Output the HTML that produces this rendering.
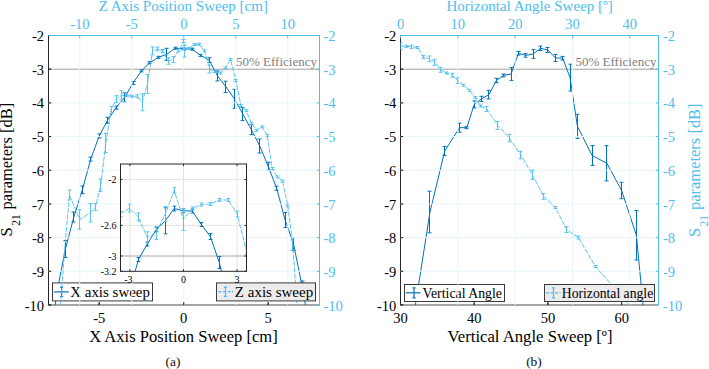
<!DOCTYPE html><html><head><meta charset="utf-8"><style>html,body{margin:0;padding:0;background:#fff;width:709px;height:369px;overflow:hidden}svg{display:block}text{font-family:"Liberation Serif", serif}</style></head><body>
<svg width="709" height="369" viewBox="0 0 709 369">
<defs>
<clipPath id="cL"><rect x="48.5" y="35.5" width="271.0" height="269.5"/></clipPath>
<clipPath id="cR"><rect x="400.5" y="35.5" width="258.0" height="269.5"/></clipPath>
<clipPath id="cI"><rect x="120.5" y="164.0" width="126.0" height="107.30000000000001"/></clipPath>
</defs>
<rect width="709" height="369" fill="#fff"/>
<path d="M48.5 69.19H319.5" stroke="#a0a0a0" stroke-width="1" fill="none"/>
<g clip-path="url(#cL)">
<path d="M48.5 355 L56.95 292 L65.4 249 L73.85 217 L82.3 189.8 L90.75 159.1 L99.2 135.9 L107.65 120.3 L116.1 107.6 L124.55 97.5 L133 83 L141.45 70.9 L149.9 62.7 L158.35 57.3 L166.8 54.3 L175.25 48.2 L183.7 48.9 L192.15 49.2 L200.6 55.4 L209.05 60 L217.5 75.9 L225.95 86.8 L234.4 98.8 L242.85 114.1 L251.3 129.6 L259.75 146 L268.2 166.3 L276.65 188.2 L285.1 220 L293.55 244 L302 286 L310.45 333" fill="none" stroke="#0072BD" stroke-width="1.0" stroke-linejoin="round"/>
<path d="M56.5 288V296 M54.5 288H58.5 M54.5 296H58.5 M65.5 240.5V257.5 M63.5 240.5H67.5 M63.5 257.5H67.5 M73.5 212V222 M71.5 212H75.5 M71.5 222H75.5 M82.5 186V193.6 M80.5 186H84.5 M80.5 193.6H84.5 M90.5 157.1V161.1 M88.5 157.1H92.5 M88.5 161.1H92.5 M99.5 133.9V137.9 M97.5 133.9H101.5 M97.5 137.9H101.5 M107.5 117.3V123.3 M105.5 117.3H109.5 M105.5 123.3H109.5 M116.5 106.1V109.1 M114.5 106.1H118.5 M114.5 109.1H118.5 M124.5 92.9V102.1 M122.5 92.9H126.5 M122.5 102.1H126.5 M133.5 81.5V84.5 M131.5 81.5H135.5 M131.5 84.5H135.5 M141.5 69.9V71.9 M139.5 69.9H143.5 M139.5 71.9H143.5 M149.5 61.7V63.7 M147.5 61.7H151.5 M147.5 63.7H151.5 M158.5 56.3V58.3 M156.5 56.3H160.5 M156.5 58.3H160.5 M166.5 48.3V60.3 M164.5 48.3H168.5 M164.5 60.3H168.5 M175.5 47.2V49.2 M173.5 47.2H177.5 M173.5 49.2H177.5 M183.5 47.9V49.9 M181.5 47.9H185.5 M181.5 49.9H185.5 M192.5 48.2V50.2 M190.5 48.2H194.5 M190.5 50.2H194.5 M200.5 54.4V56.4 M198.5 54.4H202.5 M198.5 56.4H202.5 M209.5 57.7V62.3 M207.5 57.7H211.5 M207.5 62.3H211.5 M217.5 70.9V80.9 M215.5 70.9H219.5 M215.5 80.9H219.5 M225.5 81.2V92.4 M223.5 81.2H227.5 M223.5 92.4H227.5 M234.5 89.3V108.3 M232.5 89.3H236.5 M232.5 108.3H236.5 M242.5 107.6V120.6 M240.5 107.6H244.5 M240.5 120.6H244.5 M251.5 124.6V134.6 M249.5 124.6H253.5 M249.5 134.6H253.5 M259.5 139V153 M257.5 139H261.5 M257.5 153H261.5 M268.5 162.3V170.3 M266.5 162.3H270.5 M266.5 170.3H270.5 M276.5 186.2V190.2 M274.5 186.2H278.5 M274.5 190.2H278.5 M285.5 212.5V227.5 M283.5 212.5H287.5 M283.5 227.5H287.5 M293.5 237.5V250.5 M291.5 237.5H295.5 M291.5 250.5H295.5 M302.5 281V291 M300.5 281H304.5 M300.5 291H304.5" fill="none" stroke="#0072BD" stroke-width="1.0"/>
</g>
<path d="M48.5 35.5V305" stroke="#262626" stroke-width="1" fill="none"/>
<path d="M48.5 305H319.5" stroke="#4d4d4d" stroke-width="1.2" fill="none"/>
<path d="M48.5 305h2.7 M48.5 271.31h2.7 M48.5 237.62h2.7 M48.5 203.94h2.7 M48.5 170.25h2.7 M48.5 136.56h2.7 M48.5 102.88h2.7 M48.5 69.19h2.7 M48.5 35.5h2.7 M99.2 305v-2.7 M183.7 305v-2.7 M268.2 305v-2.7" stroke="#262626" stroke-width="1" fill="none"/>
<rect x="52.5" y="282.9" width="100" height="18" fill="#fff" stroke="#3a3a3a" stroke-width="1"/>
<path d="M54 291.9H68.8" stroke="#0072BD" stroke-width="1.2" fill="none"/>
<path d="M61.6 287.2V296.5 M60.1 287.2h3 M60.1 296.5h3" stroke="#0072BD" stroke-width="1.2" fill="none"/>
<text x="70.2" y="297.3" font-size="15" fill="#000" textLength="79.8" lengthAdjust="spacingAndGlyphs">X axis sweep</text>
<path d="M79.8 35.5V305 M131.8 35.5V305 M183.8 35.5V305 M235.8 35.5V305 M287.8 35.5V305 M48.5 271.31H319.5 M48.5 237.62H319.5 M48.5 203.94H319.5 M48.5 170.25H319.5 M48.5 136.56H319.5 M48.5 102.88H319.5" stroke="#e6f5fc" stroke-width="1" fill="none"/>
<path d="M48.5 305h2.7 M48.5 271.31h2.7 M48.5 237.62h2.7 M48.5 203.94h2.7 M48.5 170.25h2.7 M48.5 136.56h2.7 M48.5 102.88h2.7 M48.5 69.19h2.7 M48.5 35.5h2.7 M99.2 305v-2.7 M183.7 305v-2.7 M268.2 305v-2.7" stroke="#262626" stroke-width="1" fill="none"/>
<text x="236" y="66" font-size="13" fill="#7f7f7f" textLength="81" lengthAdjust="spacingAndGlyphs">50% Efficiency</text>
<g clip-path="url(#cL)">
<path d="M60 312 L64.4 252 L69.5 195 L79.7 219.5 L90.3 212.8 L95.5 207.1 L100.7 185.3 L105.85 143 L111 110 L116.1 99.2 L121.4 95.3 L126.6 95.6 L131.8 96.3 L137 96.3 L142.2 102.3 L147.4 84 L152.6 51 L157.6 49 L162.6 51 L168 61 L173 59.5 L178.3 51 L183.8 41 L184.2 51 L188.9 48.5 L194.2 44.5 L199 44.3 L204.4 50.7 L209.7 69 L214.6 71.5 L220.2 73.1 L225.4 68 L230.5 59.5 L235.9 80.5 L240.9 105.5 L246.1 110.6 L251.5 123.3 L256.6 130.3 L262 126.8 L267.2 135.3 L272.2 168.5 L277.3 176.9 L282.6 181.1 L287.8 205.9 L292.8 245 L298 320" fill="none" stroke="#4DBEEE" stroke-width="0.9" stroke-dasharray="5 1.2" stroke-linejoin="round"/>
<path d="M69.5 190V200 M67.5 190H71.5 M67.5 200H71.5 M79.5 209.8V229.2 M77.5 209.8H81.5 M77.5 229.2H81.5 M90.5 203.6V222 M88.5 203.6H92.5 M88.5 222H92.5 M95.5 203.6V210.6 M93.5 203.6H97.5 M93.5 210.6H97.5 M100.5 179V191.6 M98.5 179H102.5 M98.5 191.6H102.5 M105.5 133.5V152.5 M103.5 133.5H107.5 M103.5 152.5H107.5 M111.5 106.5V113.5 M109.5 106.5H113.5 M109.5 113.5H113.5 M116.5 95.7V102.7 M114.5 95.7H118.5 M114.5 102.7H118.5 M121.5 90.8V99.8 M119.5 90.8H123.5 M119.5 99.8H123.5 M126.5 94.6V96.6 M124.5 94.6H128.5 M124.5 96.6H128.5 M131.5 95.3V97.3 M129.5 95.3H133.5 M129.5 97.3H133.5 M137.5 94.8V97.8 M135.5 94.8H139.5 M135.5 97.8H139.5 M142.5 93.8V110.8 M140.5 93.8H144.5 M140.5 110.8H144.5 M147.5 74.5V93.5 M145.5 74.5H149.5 M145.5 93.5H149.5 M152.5 47V55 M150.5 47H154.5 M150.5 55H154.5 M157.5 47V51 M155.5 47H159.5 M155.5 51H159.5 M162.5 49.5V52.5 M160.5 49.5H164.5 M160.5 52.5H164.5 M168.5 57.8V64.2 M166.5 57.8H170.5 M166.5 64.2H170.5 M173.5 56.5V62.5 M171.5 56.5H175.5 M171.5 62.5H175.5 M178.5 50V52 M176.5 50H180.5 M176.5 52H180.5 M183.5 39.5V42.5 M181.5 39.5H185.5 M181.5 42.5H185.5 M184.5 45V57 M182.5 45H186.5 M182.5 57H186.5 M188.5 47.5V49.5 M186.5 47.5H190.5 M186.5 49.5H190.5 M194.5 43.5V45.5 M192.5 43.5H196.5 M192.5 45.5H196.5 M199.5 43.3V45.3 M197.5 43.3H201.5 M197.5 45.3H201.5 M204.5 49.7V51.7 M202.5 49.7H206.5 M202.5 51.7H206.5 M209.5 65V73 M207.5 65H211.5 M207.5 73H211.5 M214.5 70.5V72.5 M212.5 70.5H216.5 M212.5 72.5H216.5 M220.5 72.1V74.1 M218.5 72.1H222.5 M218.5 74.1H222.5 M225.5 67V69 M223.5 67H227.5 M223.5 69H227.5 M230.5 58.5V60.5 M228.5 58.5H232.5 M228.5 60.5H232.5 M235.5 79.5V81.5 M233.5 79.5H237.5 M233.5 81.5H237.5 M240.5 104.5V106.5 M238.5 104.5H242.5 M238.5 106.5H242.5 M246.5 109.6V111.6 M244.5 109.6H248.5 M244.5 111.6H248.5 M251.5 122.3V124.3 M249.5 122.3H253.5 M249.5 124.3H253.5 M256.5 129.3V131.3 M254.5 129.3H258.5 M254.5 131.3H258.5 M262.5 125.8V127.8 M260.5 125.8H264.5 M260.5 127.8H264.5 M267.5 134.3V136.3 M265.5 134.3H269.5 M265.5 136.3H269.5 M272.5 167.5V169.5 M270.5 167.5H274.5 M270.5 169.5H274.5 M277.5 175.9V177.9 M275.5 175.9H279.5 M275.5 177.9H279.5 M282.5 180.1V182.1 M280.5 180.1H284.5 M280.5 182.1H284.5 M287.5 204.9V206.9 M285.5 204.9H289.5 M285.5 206.9H289.5 M292.5 240V250 M290.5 240H294.5 M290.5 250H294.5" fill="none" stroke="#4DBEEE" stroke-width="0.9"/>
</g>
<path d="M48.5 35.5H319.5" stroke="#4DBEEE" stroke-width="1" fill="none"/>
<path d="M319.5 35.5V305" stroke="#4DBEEE" stroke-width="1" fill="none"/>
<path d="M319.5 305h-2.7 M319.5 271.31h-2.7 M319.5 237.62h-2.7 M319.5 203.94h-2.7 M319.5 170.25h-2.7 M319.5 136.56h-2.7 M319.5 102.88h-2.7 M319.5 69.19h-2.7 M319.5 35.5h-2.7 M79.8 35.5v2.7 M131.8 35.5v2.7 M183.8 35.5v2.7 M235.8 35.5v2.7 M287.8 35.5v2.7" stroke="#4DBEEE" stroke-width="1" fill="none"/>
<rect x="216.5" y="282.9" width="99" height="18" fill="#ececec" stroke="#3a3a3a" stroke-width="1"/>
<path d="M218.5 291.7H233.3" stroke="#4DBEEE" stroke-width="1.2" fill="none" stroke-dasharray="3 1.5"/>
<path d="M225.5 287.2V296.3 M224 287.2h3 M224 296.3h3" stroke="#4DBEEE" stroke-width="1.2" fill="none"/>
<text x="234.8" y="297.1" font-size="15" fill="#000" textLength="78.4" lengthAdjust="spacingAndGlyphs">Z axis sweep</text>
<text x="44" y="310.6" font-size="14.5" fill="#000" text-anchor="end">-10</text>
<text x="323.5" y="310.6" font-size="14.5" fill="#4DBEEE">-10</text>
<text x="44" y="276.91" font-size="14.5" fill="#000" text-anchor="end">-9</text>
<text x="323.5" y="276.91" font-size="14.5" fill="#4DBEEE">-9</text>
<text x="44" y="243.22" font-size="14.5" fill="#000" text-anchor="end">-8</text>
<text x="323.5" y="243.22" font-size="14.5" fill="#4DBEEE">-8</text>
<text x="44" y="209.54" font-size="14.5" fill="#000" text-anchor="end">-7</text>
<text x="323.5" y="209.54" font-size="14.5" fill="#4DBEEE">-7</text>
<text x="44" y="175.85" font-size="14.5" fill="#000" text-anchor="end">-6</text>
<text x="323.5" y="175.85" font-size="14.5" fill="#4DBEEE">-6</text>
<text x="44" y="142.16" font-size="14.5" fill="#000" text-anchor="end">-5</text>
<text x="323.5" y="142.16" font-size="14.5" fill="#4DBEEE">-5</text>
<text x="44" y="108.47" font-size="14.5" fill="#000" text-anchor="end">-4</text>
<text x="323.5" y="108.47" font-size="14.5" fill="#4DBEEE">-4</text>
<text x="44" y="74.79" font-size="14.5" fill="#000" text-anchor="end">-3</text>
<text x="323.5" y="74.79" font-size="14.5" fill="#4DBEEE">-3</text>
<text x="44" y="41.1" font-size="14.5" fill="#000" text-anchor="end">-2</text>
<text x="323.5" y="41.1" font-size="14.5" fill="#4DBEEE">-2</text>
<text x="99.2" y="322.5" font-size="14.5" fill="#000" text-anchor="middle">-5</text>
<text x="183.7" y="322.5" font-size="14.5" fill="#000" text-anchor="middle">0</text>
<text x="268.2" y="322.5" font-size="14.5" fill="#000" text-anchor="middle">5</text>
<text x="79.8" y="28.8" font-size="14.5" fill="#4DBEEE" text-anchor="middle">-10</text>
<text x="131.8" y="28.8" font-size="14.5" fill="#4DBEEE" text-anchor="middle">-5</text>
<text x="183.8" y="28.8" font-size="14.5" fill="#4DBEEE" text-anchor="middle">0</text>
<text x="235.8" y="28.8" font-size="14.5" fill="#4DBEEE" text-anchor="middle">5</text>
<text x="287.8" y="28.8" font-size="14.5" fill="#4DBEEE" text-anchor="middle">10</text>
<text x="98.7" y="11.1" font-size="15" fill="#4DBEEE" textLength="169.2" lengthAdjust="spacingAndGlyphs">Z Axis Position Sweep [cm]</text>
<text x="89.2" y="341.9" font-size="16.5" fill="#000" textLength="188.5" lengthAdjust="spacingAndGlyphs">X Axis Position Sweep [cm]</text>
<text x="173" y="365.8" font-size="13.5" fill="#111" text-anchor="middle">(a)</text>
<g fill="#000" transform="translate(12.4 236.4) rotate(-90)">
<text x="0" y="0" font-size="16.5">S</text>
<text x="10.6" y="7.9" font-size="11.5">21</text>
<text x="27" y="0" font-size="16.5" textLength="106.6" lengthAdjust="spacingAndGlyphs">parameters [dB]</text>
</g>
<rect x="120.5" y="164.0" width="126.0" height="107.30000000000001" fill="#fff"/>
<path d="M129.95 164V271.3 M183.5 164V271.3 M237.05 164V271.3 M120.5 179.5H246.5 M120.5 225.4H246.5" stroke="#e3e3e3" stroke-width="1" fill="none"/>
<path d="M120.5 256H246.5" stroke="#a8a8a8" stroke-width="1" fill="none"/>
<g clip-path="url(#cI)">
<path d="M129.95 290 L138.4 259.5 L147.3 244 L156.2 229.7 L165.3 220.8 L174.2 208.5 L183.4 210.8 L192.3 211 L201.3 224.5 L210.3 236.5 L219.3 262.5 L228.2 300" fill="none" stroke="#0072BD" stroke-width="1.0" stroke-linejoin="round"/>
<path d="M138.5 257.5V261.5 M136.7 257.5H140.3 M136.7 261.5H140.3 M147.5 242V246 M145.7 242H149.3 M145.7 246H149.3 M156.5 227.7V231.7 M154.7 227.7H158.3 M154.7 231.7H158.3 M165.5 207.8V233.8 M163.7 207.8H167.3 M163.7 233.8H167.3 M174.5 206.1V210.9 M172.7 206.1H176.3 M172.7 210.9H176.3 M183.5 208.8V212.8 M181.7 208.8H185.3 M181.7 212.8H185.3 M192.5 209V213 M190.7 209H194.3 M190.7 213H194.3 M201.5 222.5V226.5 M199.7 222.5H203.3 M199.7 226.5H203.3 M210.5 233.5V239.5 M208.7 233.5H212.3 M208.7 239.5H212.3 M219.5 256.5V268.5 M217.7 256.5H221.3 M217.7 268.5H221.3" fill="none" stroke="#0072BD" stroke-width="1.0"/>
</g>
<g clip-path="url(#cI)">
<path d="M120.3 214 L129.5 208.1 L138.4 217 L147.2 237.5 L156.1 233 L165.3 214 L174.2 190.4 L183.3 219.5 L192.2 208.5 L201.3 204.5 L210.3 204 L219.3 200 L228.2 200 L237.1 214 L246.3 250" fill="none" stroke="#4DBEEE" stroke-width="0.9" stroke-dasharray="5 1.2" stroke-linejoin="round"/>
<path d="M120.5 211.5V216.5 M118.7 211.5H122.3 M118.7 216.5H122.3 M129.5 204.1V212.1 M127.7 204.1H131.3 M127.7 212.1H131.3 M138.5 213V221 M136.7 213H140.3 M136.7 221H140.3 M147.5 231.8V243.2 M145.7 231.8H149.3 M145.7 243.2H149.3 M156.5 226.4V239.6 M154.7 226.4H158.3 M154.7 239.6H158.3 M165.5 206.5V221.5 M163.7 206.5H167.3 M163.7 221.5H167.3 M174.5 187.6V193.2 M172.7 187.6H176.3 M172.7 193.2H176.3 M183.5 208.5V230.5 M181.7 208.5H185.3 M181.7 230.5H185.3 M192.5 207V210 M190.7 207H194.3 M190.7 210H194.3 M201.5 203V206 M199.7 203H203.3 M199.7 206H203.3 M210.5 202.5V205.5 M208.7 202.5H212.3 M208.7 205.5H212.3 M219.5 198.5V201.5 M217.7 198.5H221.3 M217.7 201.5H221.3 M228.5 198.5V201.5 M226.7 198.5H230.3 M226.7 201.5H230.3 M237.5 211V217 M235.7 211H239.3 M235.7 217H239.3 M246.5 246V254 M244.7 246H248.3 M244.7 254H248.3" fill="none" stroke="#4DBEEE" stroke-width="0.9"/>
</g>
<rect x="120.5" y="164.0" width="126.0" height="107.30000000000001" fill="none" stroke="#262626" stroke-width="1"/>
<path d="M129.95 271.3v-2 M183.5 271.3v-2 M237.05 271.3v-2 M129.95 164v2 M183.5 164v2 M237.05 164v2 M120.5 179.5h2 M120.5 225.4h2 M120.5 256h2 M120.5 271.3h2 M246.5 179.5h-2 M246.5 225.4h-2 M246.5 256h-2 M246.5 271.3h-2" stroke="#262626" stroke-width="1" fill="none"/>
<text x="116.5" y="183.3" font-size="10" fill="#000" text-anchor="end">-2</text>
<text x="116.5" y="229.2" font-size="10" fill="#000" text-anchor="end">-2.6</text>
<text x="116.5" y="259.8" font-size="10" fill="#000" text-anchor="end">-3</text>
<text x="116.5" y="275.1" font-size="10" fill="#000" text-anchor="end">-3.2</text>
<text x="128.35" y="282.8" font-size="10" fill="#000" text-anchor="middle">-3</text>
<text x="183.5" y="282.8" font-size="10" fill="#000" text-anchor="middle">0</text>
<text x="237.05" y="282.8" font-size="10" fill="#000" text-anchor="middle">3</text>
<path d="M400.5 69.19H658.5" stroke="#a0a0a0" stroke-width="1" fill="none"/>
<g clip-path="url(#cR)">
<path d="M415.24 306 L429.99 212 L444.73 151 L459.47 127.7 L466.84 127.7 L474.21 104.4 L481.59 98.8 L488.96 94.6 L496.33 80.5 L503.7 75.4 L511.07 74 L518.44 53.3 L525.81 55.4 L533.19 54 L540.56 48.3 L547.93 50 L555.3 57.9 L562.67 58.2 L570.04 77.6 L577.41 126.3 L592.16 155.5 L606.9 163.3 L621.64 190.5 L636.39 235.3 L643.76 312" fill="none" stroke="#0072BD" stroke-width="1.0" stroke-linejoin="round"/>
<path d="M429.5 191.2V232.8 M427.5 191.2H431.5 M427.5 232.8H431.5 M444.5 146.4V155.6 M442.5 146.4H446.5 M442.5 155.6H446.5 M459.5 123.1V132.3 M457.5 123.1H461.5 M457.5 132.3H461.5 M466.5 126.7V128.7 M464.5 126.7H468.5 M464.5 128.7H468.5 M474.5 100.9V107.9 M472.5 100.9H476.5 M472.5 107.9H476.5 M481.5 96.3V101.3 M479.5 96.3H483.5 M479.5 101.3H483.5 M488.5 90.3V98.9 M486.5 90.3H490.5 M486.5 98.9H490.5 M496.5 78.3V82.7 M494.5 78.3H498.5 M494.5 82.7H498.5 M503.5 74V76.8 M501.5 74H505.5 M501.5 76.8H505.5 M511.5 67.6V80.4 M509.5 67.6H513.5 M509.5 80.4H513.5 M518.5 51.5V55.1 M516.5 51.5H520.5 M516.5 55.1H520.5 M525.5 53.6V57.2 M523.5 53.6H527.5 M523.5 57.2H527.5 M533.5 49.7V58.3 M531.5 49.7H535.5 M531.5 58.3H535.5 M540.5 46.1V50.5 M538.5 46.1H542.5 M538.5 50.5H542.5 M547.5 47.5V52.5 M545.5 47.5H549.5 M545.5 52.5H549.5 M555.5 54.4V61.4 M553.5 54.4H557.5 M553.5 61.4H557.5 M562.5 56.4V60 M560.5 56.4H564.5 M560.5 60H564.5 M570.5 64.2V91 M568.5 64.2H572.5 M568.5 91H572.5 M577.5 114.3V138.3 M575.5 114.3H579.5 M575.5 138.3H579.5 M592.5 145.6V165.4 M590.5 145.6H594.5 M590.5 165.4H594.5 M606.5 145.7V180.9 M604.5 145.7H608.5 M604.5 180.9H608.5 M621.5 182.3V198.7 M619.5 182.3H623.5 M619.5 198.7H623.5 M636.5 210.6V260 M634.5 210.6H638.5 M634.5 260H638.5" fill="none" stroke="#0072BD" stroke-width="1.0"/>
</g>
<path d="M400.5 35.5V305" stroke="#262626" stroke-width="1" fill="none"/>
<path d="M400.5 305H658.5" stroke="#4d4d4d" stroke-width="1.2" fill="none"/>
<path d="M400.5 305h2.7 M400.5 271.31h2.7 M400.5 237.62h2.7 M400.5 203.94h2.7 M400.5 170.25h2.7 M400.5 136.56h2.7 M400.5 102.88h2.7 M400.5 69.19h2.7 M400.5 35.5h2.7 M400.5 305v-2.7 M474.21 305v-2.7 M547.93 305v-2.7 M621.64 305v-2.7" stroke="#262626" stroke-width="1" fill="none"/>
<rect x="404.5" y="284.5" width="100" height="17" fill="#fff" stroke="#3a3a3a" stroke-width="1"/>
<path d="M405.7 292.8H420.5" stroke="#0072BD" stroke-width="1.2" fill="none"/>
<path d="M414 287.9V297.8 M412.5 287.9h3 M412.5 297.8h3" stroke="#0072BD" stroke-width="1.2" fill="none"/>
<text x="422.5" y="297.8" font-size="13.8" fill="#000" textLength="79.5" lengthAdjust="spacingAndGlyphs">Vertical Angle</text>
<path d="M457.83 35.5V305 M515.17 35.5V305 M572.5 35.5V305 M629.83 35.5V305 M400.5 271.31H658.5 M400.5 237.62H658.5 M400.5 203.94H658.5 M400.5 170.25H658.5 M400.5 136.56H658.5 M400.5 102.88H658.5" stroke="#e6f5fc" stroke-width="1" fill="none"/>
<path d="M400.5 305h2.7 M400.5 271.31h2.7 M400.5 237.62h2.7 M400.5 203.94h2.7 M400.5 170.25h2.7 M400.5 136.56h2.7 M400.5 102.88h2.7 M400.5 69.19h2.7 M400.5 35.5h2.7 M400.5 305v-2.7 M474.21 305v-2.7 M547.93 305v-2.7 M621.64 305v-2.7" stroke="#262626" stroke-width="1" fill="none"/>
<text x="575.5" y="66" font-size="13" fill="#7f7f7f" textLength="81" lengthAdjust="spacingAndGlyphs">50% Efficiency</text>
<g clip-path="url(#cR)">
<path d="M400.5 46 L406.23 46.4 L411.97 46.8 L417.7 47.5 L423.43 57.2 L429.17 58.8 L434.9 62.3 L440.63 69.8 L446.37 73 L452.1 75.2 L457.83 80.6 L463.57 85.2 L469.3 90.3 L475.03 97.4 L480.77 106 L486.5 109 L497.97 125.5 L509.43 138.1 L520.9 155 L532.37 174.8 L543.83 196.5 L555.3 207.6 L566.77 229.6 L578.23 237.5 L595.43 266.5 L612.63 286 L629.83 305.5" fill="none" stroke="#4DBEEE" stroke-width="0.9" stroke-dasharray="5 1.2" stroke-linejoin="round"/>
<path d="M400.5 42.6V49.4 M398.5 42.6H402.5 M398.5 49.4H402.5 M406.5 45.4V47.4 M404.5 45.4H408.5 M404.5 47.4H408.5 M411.5 45V48.6 M409.5 45H413.5 M409.5 48.6H413.5 M417.5 46.5V48.5 M415.5 46.5H419.5 M415.5 48.5H419.5 M423.5 55.7V58.7 M421.5 55.7H425.5 M421.5 58.7H425.5 M429.5 56V61.6 M427.5 56H431.5 M427.5 61.6H431.5 M434.5 59.3V65.3 M432.5 59.3H436.5 M432.5 65.3H436.5 M440.5 67.3V72.3 M438.5 67.3H442.5 M438.5 72.3H442.5 M446.5 72V74 M444.5 72H448.5 M444.5 74H448.5 M452.5 73.2V77.2 M450.5 73.2H454.5 M450.5 77.2H454.5 M457.5 77.8V83.4 M455.5 77.8H459.5 M455.5 83.4H459.5 M463.5 84.2V86.2 M461.5 84.2H465.5 M461.5 86.2H465.5 M469.5 89.3V91.3 M467.5 89.3H471.5 M467.5 91.3H471.5 M475.5 96.4V98.4 M473.5 96.4H477.5 M473.5 98.4H477.5 M480.5 105V107 M478.5 105H482.5 M478.5 107H482.5 M486.5 106.5V111.5 M484.5 106.5H488.5 M484.5 111.5H488.5 M497.5 121.5V129.5 M495.5 121.5H499.5 M495.5 129.5H499.5 M509.5 134.3V141.9 M507.5 134.3H511.5 M507.5 141.9H511.5 M520.5 151.2V158.8 M518.5 151.2H522.5 M518.5 158.8H522.5 M532.5 170.2V179.4 M530.5 170.2H534.5 M530.5 179.4H534.5 M543.5 193.7V199.3 M541.5 193.7H545.5 M541.5 199.3H545.5 M555.5 206.6V208.6 M553.5 206.6H557.5 M553.5 208.6H557.5 M566.5 226.6V232.6 M564.5 226.6H568.5 M564.5 232.6H568.5 M578.5 236V239 M576.5 236H580.5 M576.5 239H580.5 M595.5 265.5V267.5 M593.5 265.5H597.5 M593.5 267.5H597.5 M612.5 285V287 M610.5 285H614.5 M610.5 287H614.5" fill="none" stroke="#4DBEEE" stroke-width="0.9"/>
</g>
<path d="M400.5 35.5H658.5" stroke="#4DBEEE" stroke-width="1" fill="none"/>
<path d="M658.5 35.5V305" stroke="#4DBEEE" stroke-width="1" fill="none"/>
<path d="M658.5 305h-2.7 M658.5 271.31h-2.7 M658.5 237.62h-2.7 M658.5 203.94h-2.7 M658.5 170.25h-2.7 M658.5 136.56h-2.7 M658.5 102.88h-2.7 M658.5 69.19h-2.7 M658.5 35.5h-2.7 M400.5 35.5v2.7 M457.83 35.5v2.7 M515.17 35.5v2.7 M572.5 35.5v2.7 M629.83 35.5v2.7" stroke="#4DBEEE" stroke-width="1" fill="none"/>
<rect x="544.5" y="284.5" width="110" height="17" fill="#ececec" stroke="#3a3a3a" stroke-width="1"/>
<path d="M546 292.8H560.5" stroke="#4DBEEE" stroke-width="1.2" fill="none" stroke-dasharray="3 1.5"/>
<path d="M553.5 287.9V297.8 M552 287.9h3 M552 297.8h3" stroke="#4DBEEE" stroke-width="1.2" fill="none"/>
<text x="561.8" y="297.8" font-size="13.8" fill="#000" textLength="91.4" lengthAdjust="spacingAndGlyphs">Horizontal angle</text>
<text x="396.3" y="310.6" font-size="14.5" fill="#000" text-anchor="end">-10</text>
<text x="663" y="310.6" font-size="14.5" fill="#4DBEEE">-10</text>
<text x="396.3" y="276.91" font-size="14.5" fill="#000" text-anchor="end">-9</text>
<text x="663" y="276.91" font-size="14.5" fill="#4DBEEE">-9</text>
<text x="396.3" y="243.22" font-size="14.5" fill="#000" text-anchor="end">-8</text>
<text x="663" y="243.22" font-size="14.5" fill="#4DBEEE">-8</text>
<text x="396.3" y="209.54" font-size="14.5" fill="#000" text-anchor="end">-7</text>
<text x="663" y="209.54" font-size="14.5" fill="#4DBEEE">-7</text>
<text x="396.3" y="175.85" font-size="14.5" fill="#000" text-anchor="end">-6</text>
<text x="663" y="175.85" font-size="14.5" fill="#4DBEEE">-6</text>
<text x="396.3" y="142.16" font-size="14.5" fill="#000" text-anchor="end">-5</text>
<text x="663" y="142.16" font-size="14.5" fill="#4DBEEE">-5</text>
<text x="396.3" y="108.47" font-size="14.5" fill="#000" text-anchor="end">-4</text>
<text x="663" y="108.47" font-size="14.5" fill="#4DBEEE">-4</text>
<text x="396.3" y="74.79" font-size="14.5" fill="#000" text-anchor="end">-3</text>
<text x="663" y="74.79" font-size="14.5" fill="#4DBEEE">-3</text>
<text x="396.3" y="41.1" font-size="14.5" fill="#000" text-anchor="end">-2</text>
<text x="663" y="41.1" font-size="14.5" fill="#4DBEEE">-2</text>
<text x="400.5" y="322.5" font-size="14.5" fill="#000" text-anchor="middle">30</text>
<text x="474.21" y="322.5" font-size="14.5" fill="#000" text-anchor="middle">40</text>
<text x="547.93" y="322.5" font-size="14.5" fill="#000" text-anchor="middle">50</text>
<text x="621.64" y="322.5" font-size="14.5" fill="#000" text-anchor="middle">60</text>
<text x="400.5" y="28.8" font-size="14.5" fill="#4DBEEE" text-anchor="middle">0</text>
<text x="457.83" y="28.8" font-size="14.5" fill="#4DBEEE" text-anchor="middle">10</text>
<text x="515.17" y="28.8" font-size="14.5" fill="#4DBEEE" text-anchor="middle">20</text>
<text x="572.5" y="28.8" font-size="14.5" fill="#4DBEEE" text-anchor="middle">30</text>
<text x="629.83" y="28.8" font-size="14.5" fill="#4DBEEE" text-anchor="middle">40</text>
<text x="446.4" y="11.1" font-size="15" fill="#4DBEEE" textLength="166.4" lengthAdjust="spacingAndGlyphs">Horizontal Angle Sweep [º]</text>
<text x="447.6" y="341.7" font-size="16.5" fill="#000" textLength="165" lengthAdjust="spacingAndGlyphs">Vertical Angle Sweep [º]</text>
<text x="534" y="365.8" font-size="13.5" fill="#111" text-anchor="middle">(b)</text>
<g fill="#4DBEEE" transform="translate(699.8 237) rotate(-90)">
<text x="0" y="0" font-size="16.5">S</text>
<text x="10.6" y="7.9" font-size="11.5">21</text>
<text x="27" y="0" font-size="16.5" textLength="106.6" lengthAdjust="spacingAndGlyphs">parameters [dB]</text>
</g>
</svg></body></html>
